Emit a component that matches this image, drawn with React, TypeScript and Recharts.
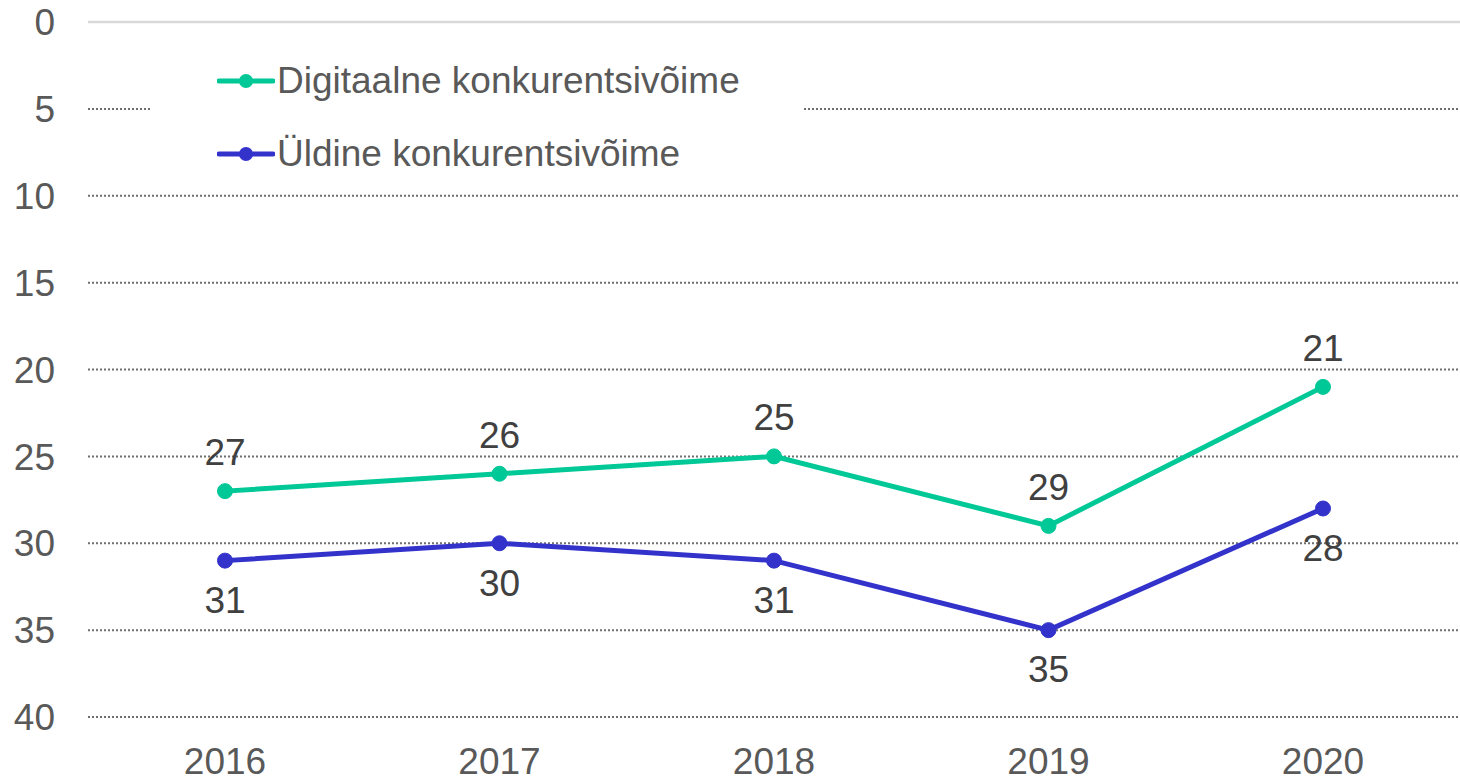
import React from "react";
import {
  LineChart,
  Line,
  XAxis,
  YAxis,
  CartesianGrid,
  LabelList,
  ReferenceLine,
} from "recharts";

const years = ["2016", "2017", "2018", "2019", "2020"];
const digitaalne = [27, 26, 25, 29, 21];
const uldine = [31, 30, 31, 35, 28];
const yTicks = [0, 5, 10, 15, 20, 25, 30, 35, 40];

const GREEN = "#00C896";
const BLUE = "#3333CC";
const FONT = "'Liberation Sans', Arial, sans-serif";

const data = years.map((y, i) => ({
  year: y,
  digi: digitaalne[i],
  uld: uldine[i],
}));

const legendItems = [
  { name: "Digitaalne konkurentsivõime", color: GREEN },
  { name: "Üldine konkurentsivõime", color: BLUE },
];

function LegendBox() {
  return (
    <div
      style={{
        position: "absolute",
        left: 150,
        top: 44,
        width: 652,
        height: 146,
        background: "#fff",
      }}
    >
      {legendItems.map((it) => (
        <div
          key={it.name}
          style={{
            display: "flex",
            alignItems: "center",
            height: 73,
            paddingLeft: 67,
          }}
        >
          <svg width={58} height={20} style={{ marginRight: 2 }}>
            <line x1={2} y1={10} x2={56} y2={10} stroke={it.color} strokeWidth={5} strokeLinecap="round" />
            <circle cx={29} cy={10} r={7} fill={it.color} />
          </svg>
          <span style={{ fontFamily: FONT, fontSize: 37, color: "#595959" }}>{it.name}</span>
        </div>
      ))}
    </div>
  );
}

export default function App() {
  return (
    <div style={{ position: "absolute", left: 0, top: 0, width: 1460, height: 778, overflow: "hidden", background: "#fff" }}>
      <LineChart
        width={1460}
        height={778}
        data={data}
        margin={{ top: 22, right: 0, left: 0, bottom: 0 }}
      >
        <CartesianGrid
          vertical={false}
          stroke="#6f6f6f"
          strokeWidth={2}
          strokeDasharray="2 2"
        />
        <ReferenceLine y={0} stroke="#d9d9d9" strokeWidth={2.5} />
        <XAxis
          dataKey="year"
          axisLine={false}
          tickLine={false}
          height={61}
          tickMargin={25}
          padding={{ left: 137, right: 137 }}
          tick={{ fill: "#595959", fontSize: 37, fontFamily: FONT }}
        />
        <YAxis
          reversed
          domain={[0, 40]}
          ticks={yTicks}
          interval={0}
          axisLine={false}
          tickLine={false}
          width={88}
          tickMargin={27}
          tick={{ fill: "#595959", fontSize: 37, fontFamily: FONT }}
        />
        <Line
          name="Digitaalne konkurentsivõime"
          dataKey="digi"
          stroke={GREEN}
          strokeWidth={5}
          dot={{ r: 7.5, fill: GREEN, stroke: GREEN, strokeWidth: 1 }}
          activeDot={false}
          isAnimationActive={false}
        >
          <LabelList
            dataKey="digi"
            position="top"
            offset={26}
            fill="#404040"
            fontSize={37}
            fontFamily={FONT}
          />
        </Line>
        <Line
          name="Üldine konkurentsivõime"
          dataKey="uld"
          stroke={BLUE}
          strokeWidth={5}
          dot={{ r: 7.5, fill: BLUE, stroke: BLUE, strokeWidth: 1 }}
          activeDot={false}
          isAnimationActive={false}
        >
          <LabelList
            dataKey="uld"
            position="bottom"
            offset={26}
            fill="#404040"
            fontSize={37}
            fontFamily={FONT}
          />
        </Line>
      </LineChart>
      <LegendBox />
    </div>
  );
}
